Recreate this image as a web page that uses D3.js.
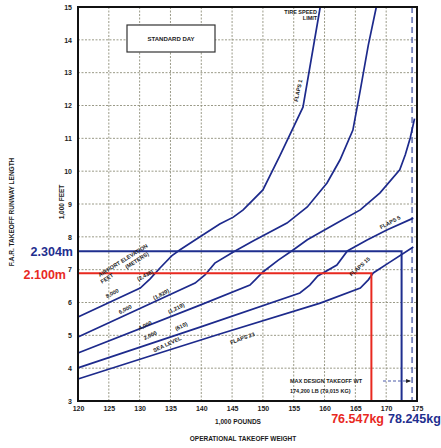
<!DOCTYPE html>
<html>
<head>
<meta charset="utf-8">
<script src="https://cdn.jsdelivr.net/npm/d3@7"></script>
<style>
  body { margin: 0; background: #fff; }
  text { font-family: "Liberation Sans", Arial, sans-serif; }
</style>
</head>
<body>
<div id="chart"></div>
<script>
// tick labels
var xTicks = [120, 125, 130, 135, 140, 145, 150, 155, 160, 165, 170, 175];
var yTicks = [3, 4, 5, 6, 7, 8, 9, 10, 11, 12, 13, 14, 15];

// takeoff runway length curves: [weight 1,000 lb, length 1,000 ft]
var elev8000 = [[120, 5.56], [130.1, 6.44], [131.7, 6.72], [133.3, 7.05], [135.2, 7.42], [136.5, 7.6],
                [139.8, 8.0], [143.0, 8.39], [145.2, 8.6], [146.8, 8.82], [150.0, 9.43], [152.8, 10.49],
                [156.5, 11.95], [159.3, 15]];
var elev6000 = [[120, 4.95], [139.0, 6.59], [140.6, 6.84], [142.2, 7.2], [145.2, 7.54], [148.4, 7.87],
                [153.9, 8.42], [157.2, 8.91], [160.4, 9.64], [162.5, 10.34], [164.6, 11.25], [165.8, 12.47],
                [167.1, 13.84], [168.4, 15]];
var elev4000 = [[120, 4.46], [139.8, 5.92], [147.9, 6.53], [148.9, 6.72], [150.0, 6.93], [152.5, 7.29],
                [154.9, 7.6], [157.2, 7.91], [162.0, 8.42], [165.8, 8.82], [169.0, 9.34], [172.2, 10.04],
                [173.1, 10.5], [173.9, 11.01], [174.6, 11.6]];
var elev2000 = [[120, 4.01], [139.8, 5.25], [156.0, 6.29], [157.6, 6.53], [158.9, 6.81], [162.0, 7.14],
                [163.7, 7.57], [166.9, 7.9], [170.1, 8.21], [174.4, 8.57]];
var seaLevel = [[120, 3.67], [131.7, 4.37], [143.0, 5.04], [159.3, 5.98], [165.8, 6.44], [167.1, 6.69],
                [167.9, 6.9], [170.6, 7.23], [174.4, 7.69]];

// reading lines
var lenBlue = 7.56, wtBlue = 172.5;   // 2.304 m , 78.245 kg
var lenRed = 6.89, wtRed = 167.6;     // 2.100 m , 76.547 kg
var maxDesignWt = 174.2;

var W = 441, H = 448;
var svg = d3.select("#chart").append("svg")
  .attr("width", W).attr("height", H);

var x = d3.scaleLinear().domain([120, 175]).range([78, 417]);
var y = d3.scaleLinear().domain([3, 15]).range([401, 7]);

var curveColor = "#1d2a8c";
var blue = "#1f2f8f";
var red = "#e8291f";

// grid
svg.append("g").selectAll("line")
  .data(xTicks.slice(1, -1))
  .join("line")
  .attr("x1", d => x(d)).attr("x2", d => x(d))
  .attr("y1", y(15)).attr("y2", y(3))
  .style("stroke", "#8f8f7a").style("stroke-width", 0.9)
  .style("stroke-dasharray", "2,1.5");
svg.append("g").selectAll("line")
  .data(yTicks.slice(1, -1))
  .join("line")
  .attr("x1", x(120)).attr("x2", x(175))
  .attr("y1", d => y(d)).attr("y2", d => y(d))
  .style("stroke", "#8f8f7a").style("stroke-width", 0.9)
  .style("stroke-dasharray", "2,1.5");

// axes labels
var yAxis = svg.append("g")
  .attr("transform", "translate(" + x(120) + ",0)")
  .call(d3.axisLeft(y).tickValues(yTicks).tickSize(0).tickPadding(6).tickFormat(d3.format("d")));
var xAxis = svg.append("g")
  .attr("transform", "translate(0," + y(3) + ")")
  .call(d3.axisBottom(x).tickValues(xTicks).tickSize(0).tickPadding(5).tickFormat(d3.format("d")));
[yAxis, xAxis].forEach(a => {
  a.select(".domain").remove();
  a.selectAll("text").style("font-size", "7px").style("font-weight", "bold").style("fill", "#222");
});

// max design takeoff weight
svg.append("line")
  .attr("x1", x(maxDesignWt)).attr("x2", x(maxDesignWt))
  .attr("y1", y(15)).attr("y2", y(3))
  .style("stroke", "#4a5aa8").style("stroke-width", 1.3)
  .style("stroke-dasharray", "6,4");

// curves
var line = d3.line().x(d => x(d[0])).y(d => y(d[1]));
[elev8000, elev6000, elev4000, elev2000, seaLevel].forEach(s => {
  svg.append("path")
    .datum(s)
    .attr("d", line)
    .style("stroke", curveColor)
    .style("stroke-width", 1.7)
    .style("fill", "none");
});

// reading lines
svg.append("path")
  .datum([[120, lenBlue], [wtBlue, lenBlue], [wtBlue, 3]])
  .attr("d", line)
  .style("stroke", blue).style("stroke-width", 2).style("fill", "none");
svg.append("path")
  .datum([[120, lenRed], [wtRed, lenRed], [wtRed, 3]])
  .attr("d", line)
  .style("stroke", red).style("stroke-width", 2).style("fill", "none");

// frame
svg.append("rect")
  .attr("x", x(120)).attr("y", y(15))
  .attr("width", x(175) - x(120)).attr("height", y(3) - y(15))
  .style("fill", "none").style("stroke", "#111").style("stroke-width", 2);

// small annotation text helper
function label(txt, px, py, rot, size, anchor) {
  svg.append("text")
    .attr("transform", "translate(" + px + "," + py + ") rotate(" + (rot || 0) + ")")
    .attr("text-anchor", anchor || "middle")
    .style("font-size", (size || 6) + "px")
    .style("font-weight", "bold")
    .style("fill", "#1a1a1a")
    .text(txt);
}

// standard day box
svg.append("rect")
  .attr("x", 127).attr("y", 25).attr("width", 88).attr("height", 27)
  .style("fill", "#fff").style("stroke", "#333").style("stroke-width", 1.2);
label("STANDARD DAY", 171, 41, 0, 6);

// axis titles
label("F.A.R. TAKEOFF RUNWAY LENGTH", 14, 212, -90, 6.5);
label("1,000 FEET", 64, 202, -90, 6.5);
label("1,000 POUNDS", 238, 424, 0, 6.5);
label("OPERATIONAL TAKEOFF WEIGHT", 243, 441, 0, 6.5);

// elevation labels
label("AIRPORT ELEVATION", 124, 262, -32, 5.5);
label("FEET", 108, 280, -32, 5.5);
label("(METERS)", 138, 262, -32, 5.5);
label("8,000", 113, 295, -28, 5.5);
label("(2,438)", 146, 277, -28, 5.5);
label("6,000", 126, 311, -28, 5.5);
label("(1,829)", 162, 296, -28, 5.5);
label("4,000", 146, 327, -27, 5.5);
label("(1,219)", 177, 310, -27, 5.5);
label("2,000", 151, 337, -25, 5.5);
label("(610)", 182, 328, -25, 5.5);
label("SEA LEVEL", 168, 346, -25, 5.5);

// flap labels
label("FLAPS 23", 243, 340, -20, 5.5);
label("FLAPS 15", 361, 268, -42, 5.5);
label("FLAPS 5", 391, 224, -28, 5.5);
label("FLAPS 1", 300, 91, -78, 5.5);
label("TIRE SPEED", 317, 14, 0, 5.5, "end");
label("LIMIT", 310, 20, 0, 5.5);

// max design weight note
label("MAX DESIGN TAKEOFF WT", 290, 383, 0, 5.5, "start");
label("174,200 LB (79,015 KG)", 290, 393, 0, 5.5, "start");
svg.append("line")
  .attr("x1", 383).attr("x2", x(maxDesignWt) - 2)
  .attr("y1", 381).attr("y2", 381)
  .style("stroke", "#4a5aa8").style("stroke-width", 1)
  .style("stroke-dasharray", "3,2");
svg.append("path")
  .attr("d", "M" + (x(maxDesignWt) - 1) + ",381 l-5,-2 l0,4 z")
  .style("fill", "#222");

// metric readings
function bigLabel(txt, px, py, color, anchor) {
  svg.append("text")
    .attr("x", px).attr("y", py)
    .attr("text-anchor", anchor)
    .style("font-size", "12.5px")
    .style("font-weight", "bold")
    .style("fill", color)
    .text(txt);
}
bigLabel("2.304m", 73, y(lenBlue) + 4.5, blue, "end");
bigLabel("2.100m", 66, y(lenRed) + 6, red, "end");
bigLabel("76.547kg", 384, 423, red, "end");
bigLabel("78.245kg", 388, 423, blue, "start");
</script>
</body>
</html>
